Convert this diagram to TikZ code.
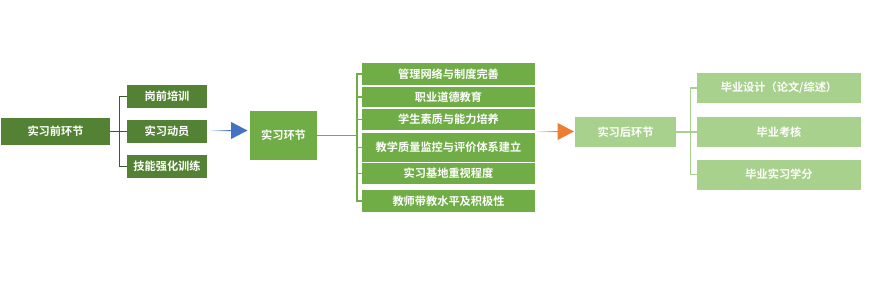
\documentclass[tikz,border=0pt]{standalone}
\usepackage{fontspec}
\setmainfont{Noto Sans CJK SC}[BoldFont={Noto Sans CJK SC Bold}]
\usepackage{tikz}
\usetikzlibrary{arrows.meta,positioning,shapes.arrows}
\definecolor{gdark}{HTML}{548235}
\definecolor{gmid}{HTML}{70AD47}
\definecolor{glight}{HTML}{A9D18E}
\definecolor{gline}{HTML}{3B5B26}
\definecolor{ablue}{HTML}{4472C4}
\definecolor{aorange}{HTML}{ED7D31}
\pgfdeclarehorizontalshading{bluefade}{100bp}{color(0bp)=(white); color(25bp)=(white); color(52bp)=(ablue); color(100bp)=(ablue)}
\pgfdeclarehorizontalshading{orangefade}{100bp}{color(0bp)=(white); color(25bp)=(white); color(52bp)=(aorange); color(100bp)=(aorange)}

\begin{document}
\begin{tikzpicture}[
  x=0.75pt, y=-0.75pt,
  font=\fontsize{8.4}{10}\selectfont\bfseries,
  stage/.style={rectangle, text=white, align=center, inner sep=1pt},
  pre/.style={stage, fill=gdark},
  mid/.style={stage, fill=gmid},
  post/.style={stage, fill=glight},
  flowarrow/.style={single arrow, minimum width=12.75pt, minimum height=29.25pt,
    single arrow head extend=3.2pt, single arrow tip angle=55, inner sep=0pt,
    shading angle=0},
  branch/.style={line width=0.8pt}
]
\useasboundingbox (0,0) rectangle (882,286);

% pre-internship
\node[pre, minimum width=81.75pt, minimum height=20.25pt] (prestage) at (55.5,131.5) {实习前环节};
\node[pre, minimum width=60pt, minimum height=17.25pt] (gqpx) at (167,96.5) {岗前培训};
\node[pre, minimum width=60pt, minimum height=17.25pt] (sxdy) at (167,131.5) {实习动员};
\node[pre, minimum width=60pt, minimum height=17.25pt] (jnqh) at (167,166.5) {技能强化训练};
\coordinate (j1) at (119.5,131.5);
\draw[branch, gline] (prestage.east) -- (j1);
\foreach \n in {gqpx,sxdy,jnqh}
  \draw[branch, gline] (j1) |- (\n.west);

\node[flowarrow, shading=bluefade] (arrow1) at (227.5,130.5) {};

% internship
\node[mid, minimum width=50.25pt, minimum height=36.75pt] (midstage) at (283.5,135.5) {实习环节};
\node[mid, minimum width=129.75pt, minimum height=16.5pt] (glwl) at (448.5,74) {管理网络与制度完善};
\node[mid, minimum width=129.75pt, minimum height=15pt] (zydd) at (448.5,97) {职业道德教育};
\node[mid, minimum width=129.75pt, minimum height=15.75pt] (xssz) at (448.5,119.5) {学生素质与能力培养};
\node[mid, minimum width=129.75pt, minimum height=21.75pt] (jxzl) at (448.5,147.5) {教学质量监控与评价体系建立};
\node[mid, minimum width=129.75pt, minimum height=15.75pt] (sxjd) at (448.5,173.5) {实习基地重视程度};
\node[mid, minimum width=129.75pt, minimum height=16.5pt] (jsdj) at (448.5,201) {教师带教水平及积极性};
\coordinate (j2) at (357,135.5);
\draw[branch, gmid] (midstage.east) -- (j2);
\foreach \n in {glwl,zydd,xssz,jxzl,sxjd,jsdj}
  \draw[branch, gmid] (j2) |- (\n.west);

\node[flowarrow, shading=orangefade] (arrow2) at (554,131.5) {};

% post-internship
\node[post, minimum width=75.75pt, minimum height=22.5pt] (poststage) at (625.5,132) {实习后环节};
\node[post, minimum width=123pt, minimum height=22.5pt] (bysj) at (779,88) {毕业设计（论文/综述）};
\node[post, minimum width=123pt, minimum height=22.5pt] (bykh) at (779,132) {毕业考核};
\node[post, minimum width=123pt, minimum height=22.5pt] (byxf) at (779,174.5) {毕业实习学分};
\coordinate (j3) at (690.5,132);
\draw[branch, glight] (poststage.east) -- (j3);
\foreach \n in {bysj,bykh,byxf}
  \draw[branch, glight] (j3) |- (\n.west);

\end{tikzpicture}
\end{document}
